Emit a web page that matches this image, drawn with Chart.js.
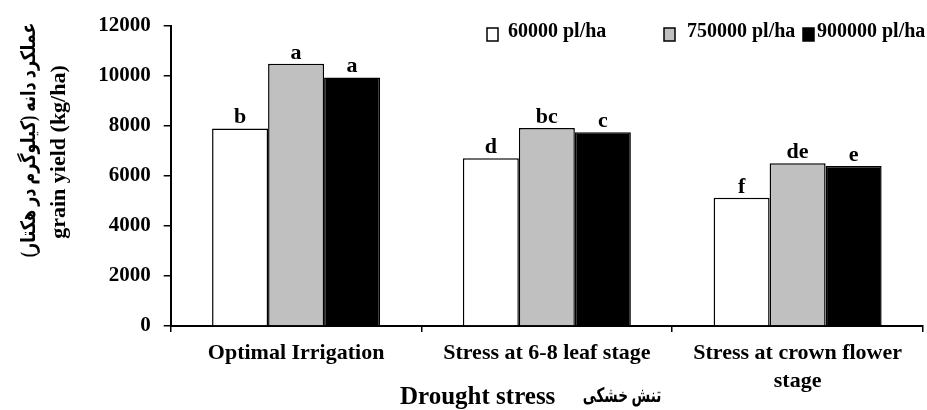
<!DOCTYPE html>
<html>
<head>
<meta charset="utf-8">
<script src="https://cdn.jsdelivr.net/npm/chart.js@4.4.1/dist/chart.umd.min.js"></script>
<style>
  html, body { margin: 0; padding: 0; background: #fff; }
  #wrap { width: 927px; height: 410px; }
</style>
</head>
<body>
<div id="wrap"><canvas id="chart" width="927" height="410"></canvas></div>
<script>
const categories = ['Optimal Irrigation', 'Stress at 6-8 leaf stage', ['Stress at crown flower', 'stage']];
const seriesNames = ['60000 pl/ha', '750000 pl/ha', '900000 pl/ha'];
const yield60 = [7890, 6700, 5120];
const yield75 = [10480, 7910, 6500];
const yield90 = [9930, 7740, 6390];
const letters60 = ['b', 'd', 'f'];
const letters75 = ['a', 'bc', 'de'];
const letters90 = ['a', 'c', 'e'];
const yTicks = [0, 2000, 4000, 6000, 8000, 10000, 12000];

const serif = "'Liberation Serif', 'DejaVu Serif', 'DejaVu Sans'";
const fills = ['#ffffff', '#c0c0c0', '#000000'];

// persian text squeezed to the width it has in the original
function squeezedText(ctx, text, x, y, angle, font, sx) {
    ctx.save();
    ctx.translate(x, y);
    ctx.rotate(angle);
    ctx.scale(sx, 1);
    ctx.font = font;
    ctx.textAlign = 'center';
    ctx.textBaseline = 'middle';
    ctx.fillText(text, 0, 0);
    ctx.restore();
}

// letters above bars, custom legend, axis titles
const extras = {
    id: 'extras',
    afterDatasetsDraw(chart) {
        const ctx = chart.ctx;
        const allLetters = [letters60, letters75, letters90];
        ctx.save();
        ctx.fillStyle = '#000';
        ctx.font = 'bold 22px ' + serif;
        ctx.textAlign = 'center';
        ctx.textBaseline = 'alphabetic';
        chart.data.datasets.forEach((ds, i) => {
            chart.getDatasetMeta(i).data.forEach((bar, j) => {
                ctx.fillText(allLetters[i][j], bar.x, bar.y - 5);
            });
        });

        // legend
        const boxX = [487, 664, 803];
        const textX = [508, 687, 817];
        ctx.font = 'bold 20px ' + serif;
        ctx.textAlign = 'left';
        chart.data.datasets.forEach((ds, i) => {
            ctx.fillStyle = ds.backgroundColor;
            ctx.fillRect(boxX[i], 28, 11, 13);
            ctx.strokeStyle = '#000';
            ctx.lineWidth = 1.5;
            ctx.strokeRect(boxX[i], 28, 11, 13);
            ctx.fillStyle = '#000';
            ctx.fillText(ds.label, textX[i], 37);
        });

        // y title, two lines rotated
        squeezedText(ctx, 'عملکرد دانه (کیلوگرم در هکتار)', 30, 140, -Math.PI / 2,
            'bold 20px ' + serif, 0.8);
        ctx.save();
        ctx.translate(59, 152);
        ctx.rotate(-Math.PI / 2);
        ctx.textAlign = 'center';
        ctx.textBaseline = 'middle';
        ctx.font = 'bold 22px ' + serif;
        ctx.fillText('grain yield (kg/ha)', 0, 0);
        ctx.restore();

        // x title
        ctx.textAlign = 'left';
        ctx.font = 'bold 25px ' + serif;
        ctx.fillText('Drought stress', 400, 404);
        squeezedText(ctx, 'تنش خشکی', 622, 397, 0, 'bold 20px ' + serif, 0.68);
        ctx.restore();
    }
};

new Chart(document.getElementById('chart').getContext('2d'), {
    type: 'bar',
    data: {
        labels: categories,
        datasets: [{
            label: seriesNames[0],
            data: yield60,
            backgroundColor: fills[0]
        }, {
            label: seriesNames[1],
            data: yield75,
            backgroundColor: fills[1]
        }, {
            label: seriesNames[2],
            data: yield90,
            backgroundColor: fills[2]
        }]
    },
    options: {
        responsive: false,
        animation: false,
        devicePixelRatio: 1,
        layout: { padding: { top: 24, right: 4, left: 0, bottom: 0 } },
        datasets: {
            bar: {
                borderColor: '#000',
                borderWidth: 1.5,
                categoryPercentage: 0.67,
                barPercentage: 1
            }
        },
        plugins: {
            legend: { display: false },
            tooltip: { enabled: false }
        },
        scales: {
            x: {
                afterFit(scale) { scale.height = 84; },
                grid: {
                    drawOnChartArea: false,
                    drawTicks: true,
                    tickLength: 6,
                    color: '#000',
                    lineWidth: 1.5
                },
                border: { color: '#000', width: 2 },
                ticks: {
                    color: '#000',
                    padding: 7,
                    maxRotation: 0,
                    autoSkip: false,
                    font: { family: serif, size: 22, weight: 'bold', lineHeight: 1.27 }
                }
            },
            y: {
                min: 0,
                max: 12000,
                afterFit(scale) { scale.width = 170.7; },
                afterBuildTicks(scale) { scale.ticks = yTicks.map(v => ({ value: v })); },
                grid: {
                    drawOnChartArea: false,
                    drawTicks: true,
                    tickLength: 7,
                    color: '#000',
                    lineWidth: 1.5
                },
                border: { color: '#000', width: 2 },
                ticks: {
                    color: '#000',
                    padding: 13,
                    callback: v => String(v),
                    font: { family: serif, size: 21, weight: 'bold' }
                }
            }
        }
    },
    plugins: [extras]
});
</script>
</body>
</html>
